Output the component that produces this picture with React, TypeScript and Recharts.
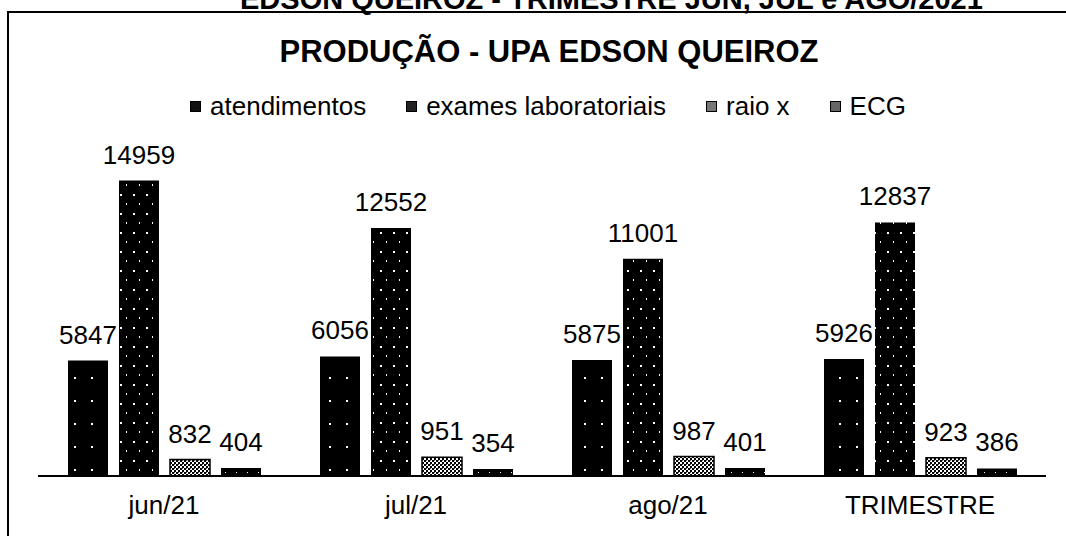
import { BarChart, Bar, XAxis, YAxis, LabelList } from "recharts";

const categories = ["jun/21", "jul/21", "ago/21", "TRIMESTRE"];
const atendimentos = [5847, 6056, 5875, 5926];
const exames = [14959, 12552, 11001, 12837];
const raioX = [832, 951, 987, 923];
const ecg = [404, 354, 401, 386];

const FONT = '"Liberation Sans", Arial, sans-serif';

const series = [
  { key: "atendimentos", name: "atendimentos", fill: "url(#patAtend)", swatch: "#111" },
  { key: "exames", name: "exames laboratoriais", fill: "url(#patExames)", swatch: "#222" },
  { key: "raioX", name: "raio x", fill: "url(#patRaio)", swatch: "#777" },
  { key: "ecg", name: "ECG", fill: "url(#patEcg)", swatch: "#666" },
];

const data = categories.map((cat, i) => ({
  cat,
  atendimentos: atendimentos[i],
  exames: exames[i],
  raioX: raioX[i],
  ecg: ecg[i],
}));

export default function App() {
  return (
    <div
      style={{
        position: "absolute",
        left: 0,
        top: 0,
        width: 1066,
        height: 536,
        background: "#fff",
        overflow: "hidden",
        fontFamily: FONT,
        color: "#000",
      }}
    >
      {/* page title, cut off by the scan */}
      <div
        style={{
          position: "absolute",
          left: 240,
          top: -15,
          fontSize: 29,
          lineHeight: "29px",
          fontWeight: "bold",
          whiteSpace: "nowrap",
        }}
      >
        EDSON QUEIROZ - TRIMESTRE JUN, JUL e AGO/2021
      </div>

      {/* frame */}
      <div
        style={{
          position: "absolute",
          left: 7,
          top: 11,
          width: 1100,
          height: 600,
          borderLeft: "2px solid #000",
          borderTop: "2px solid #000",
        }}
      />

      <div
        style={{
          position: "absolute",
          left: 0,
          top: 36,
          width: 1098,
          textAlign: "center",
          fontSize: 31,
          lineHeight: "31px",
          fontWeight: "bold",
          whiteSpace: "nowrap",
        }}
      >
        PRODUÇÃO - UPA EDSON QUEIROZ
      </div>

      {/* Legend */}
      <div
        style={{
          position: "absolute",
          left: 0,
          top: 93,
          width: 1096,
          display: "flex",
          justifyContent: "center",
          gap: 40,
          fontSize: 26,
          lineHeight: "26px",
        }}
      >
        {series.map((s) => (
          <div key={s.key} style={{ display: "flex", alignItems: "center", gap: 9 }}>
            <div style={{ width: 11, height: 11, backgroundColor: s.swatch, border: "1px solid #000", boxSizing: "border-box" }} />
            <span>{s.name}</span>
          </div>
        ))}
      </div>

      <div style={{ position: "absolute", left: 0, top: 0 }}>
        <BarChart
          width={1066}
          height={536}
          data={data}
          margin={{ top: 160, right: 20, bottom: 0, left: 38 }}
          barCategoryGap={30}
          barGap={11}
        >
          <defs>
            <pattern id="patAtend" width="17" height="23" patternUnits="userSpaceOnUse">
              <rect width="17" height="23" fill="#000" />
              <rect x="6" y="9" width="2" height="2" fill="#fff" />
            </pattern>
            <pattern id="patExames" width="13" height="19" patternUnits="userSpaceOnUse">
              <rect width="13" height="19" fill="#000" />
              <rect x="3" y="4" width="2" height="2" fill="#fff" />
              <rect x="9" y="13" width="1" height="2" fill="#fff" />
            </pattern>
            <pattern id="patRaio" width="4" height="4" patternUnits="userSpaceOnUse">
              <rect width="4" height="4" fill="#fff" />
              <rect width="2" height="2" fill="#000" />
              <rect x="2" y="2" width="2" height="2" fill="#000" />
              <rect x="2" y="0" width="1" height="1" fill="#555" />
            </pattern>
            <pattern id="patEcg" width="11" height="5" patternUnits="userSpaceOnUse">
              <rect width="11" height="5" fill="#000" />
              <rect x="5" y="2" width="1" height="1" fill="#fff" />
            </pattern>
          </defs>
          <XAxis
            dataKey="cat"
            tickLine={false}
            tickSize={0}
            tickMargin={20}
            height={60}
            axisLine={{ stroke: "#000", strokeWidth: 2 }}
            tick={{ fill: "#000", fontSize: 26, fontFamily: FONT }}
            interval={0}
          />
          <YAxis hide domain={[0, 16000]} />
          {series.map((s) => (
            <Bar
              key={s.key}
              dataKey={s.key}
              name={s.name}
              fill={s.fill}
              stroke={s.key === "raioX" ? "#000" : undefined}
              strokeWidth={s.key === "raioX" ? 1.5 : 0}
              isAnimationActive={false}
            >
              <LabelList
                dataKey={s.key}
                position="top"
                offset={17}
                style={{ fill: "#000", fontSize: 26, fontFamily: FONT }}
              />
            </Bar>
          ))}
        </BarChart>
      </div>
    </div>
  );
}
